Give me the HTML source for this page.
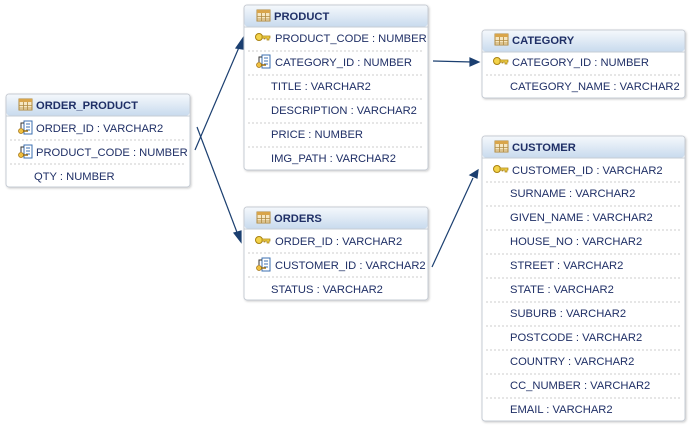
<!DOCTYPE html>
<html><head><meta charset="utf-8"><style>
html,body{margin:0;padding:0;background:#fff;width:690px;height:425px;overflow:hidden}
svg text{font-family:"Liberation Sans",sans-serif;font-size:11.2px;fill:#1f2f66}
</style></head><body>
<svg width="690" height="425" viewBox="0 0 690 425" xmlns="http://www.w3.org/2000/svg">
<defs>
<linearGradient id="hg" x1="0" y1="0" x2="0" y2="1"><stop offset="0" stop-color="#f4f8fc"/><stop offset="1" stop-color="#c9dbee"/></linearGradient>
<filter id="sh" x="-5%" y="-5%" width="110%" height="110%"><feDropShadow dx="1" dy="1" stdDeviation="1" flood-color="#000" flood-opacity="0.2"/></filter>
<g id="tbl"><rect x="0" y="0" width="13" height="11" fill="#f6e7c2" stroke="#b08a40" stroke-width="1"/><rect x="0" y="0" width="13" height="3" fill="#d9a54a"/><path d="M4.5 3v8M8.5 3v8M0 6.5h13M0 9h13" stroke="#b08a40" stroke-width="0.8"/></g>
<g id="key"><circle cx="4" cy="4" r="3.5" fill="#f3d34a" stroke="#a98210"/><path d="M7 3h8v2h-1v2h-2v-2h-2v1h-1v-1h-2z" fill="#f3d34a" stroke="#a98210" stroke-width="0.7"/></g>
<g id="fk"><rect x="6" y="0" width="8" height="13" fill="#fff" stroke="#3b6fb0"/><path d="M8 3h4M8 6h4M8 9h4" stroke="#3b6fb0"/><circle cx="3" cy="10" r="2.5" fill="#f0c040" stroke="#a07010" stroke-width="0.7"/><path d="M5 10h5" stroke="#a07010" stroke-width="1.5"/><path d="M3 7v-5h3" stroke="#333" fill="none"/></g>
</defs>

<g stroke="#1b3f70" stroke-width="1.2" fill="#1b3f70">
<path d="M195 150 L240 45" fill="none"/><path d="M243 38 L236 48 L243 49 Z"/>
<path d="M197 127 L238 235" fill="none"/><path d="M241 242 L234 233 L241 231 Z"/>
<path d="M433 61 L472 62" fill="none"/><path d="M479 62 L470 58 L470 66 Z"/>
<path d="M432 267 L473 178" fill="none"/><path d="M478 170 L470 175 L477 178 Z"/>
</g>

<g transform="translate(6,94)">
<rect x="0" y="0" width="184" height="93" rx="3" fill="#fff" stroke="#c6ccd4" filter="url(#sh)"/>
<rect x="0.5" y="0.5" width="183" height="21" rx="3" fill="url(#hg)"/>
<line x1="0" y1="22" x2="184" y2="22" stroke="#c6ccd4"/>
<use href="#tbl" x="13" y="5"/><text x="30" y="15" style="font-weight:bold">ORDER_PRODUCT</text>
<use href="#fk" x="12" y="27"/><text x="30" y="38">ORDER_ID : VARCHAR2</text>
<line x1="4" y1="46" x2="180" y2="46" stroke="#ccc" stroke-dasharray="2,2"/>
<use href="#fk" x="12" y="51"/><text x="30" y="62">PRODUCT_CODE : NUMBER</text>
<line x1="4" y1="70" x2="180" y2="70" stroke="#ccc" stroke-dasharray="2,2"/>
<text x="28" y="86">QTY : NUMBER</text>
</g>

<g transform="translate(244,5)">
<rect x="0" y="0" width="184" height="165" rx="3" fill="#fff" stroke="#c6ccd4" filter="url(#sh)"/>
<rect x="0.5" y="0.5" width="183" height="21" rx="3" fill="url(#hg)"/>
<line x1="0" y1="22" x2="184" y2="22" stroke="#c6ccd4"/>
<use href="#tbl" x="13" y="5"/><text x="30" y="15" style="font-weight:bold">PRODUCT</text>
<use href="#key" x="11" y="28"/><text x="31" y="37">PRODUCT_CODE : NUMBER</text>
<line x1="4" y1="46" x2="180" y2="46" stroke="#ccc" stroke-dasharray="2,2"/>
<use href="#fk" x="12" y="50"/><text x="31" y="61">CATEGORY_ID : NUMBER</text>
<line x1="4" y1="70" x2="180" y2="70" stroke="#ccc" stroke-dasharray="2,2"/>
<text x="27" y="85">TITLE : VARCHAR2</text>
<line x1="4" y1="94" x2="180" y2="94" stroke="#ccc" stroke-dasharray="2,2"/>
<text x="27" y="109">DESCRIPTION : VARCHAR2</text>
<line x1="4" y1="118" x2="180" y2="118" stroke="#ccc" stroke-dasharray="2,2"/>
<text x="27" y="133">PRICE : NUMBER</text>
<line x1="4" y1="142" x2="180" y2="142" stroke="#ccc" stroke-dasharray="2,2"/>
<text x="27" y="157">IMG_PATH : VARCHAR2</text>
</g>

<g transform="translate(244,207)">
<rect x="0" y="0" width="184" height="93" rx="3" fill="#fff" stroke="#c6ccd4" filter="url(#sh)"/>
<rect x="0.5" y="0.5" width="183" height="21" rx="3" fill="url(#hg)"/>
<line x1="0" y1="22" x2="184" y2="22" stroke="#c6ccd4"/>
<use href="#tbl" x="13" y="5"/><text x="30" y="15" style="font-weight:bold">ORDERS</text>
<use href="#key" x="11" y="29"/><text x="31" y="38">ORDER_ID : VARCHAR2</text>
<line x1="4" y1="46" x2="180" y2="46" stroke="#ccc" stroke-dasharray="2,2"/>
<use href="#fk" x="12" y="51"/><text x="31" y="62">CUSTOMER_ID : VARCHAR2</text>
<line x1="4" y1="70" x2="180" y2="70" stroke="#ccc" stroke-dasharray="2,2"/>
<text x="27" y="86">STATUS : VARCHAR2</text>
</g>

<g transform="translate(482,30)">
<rect x="0" y="0" width="203" height="68" rx="3" fill="#fff" stroke="#c6ccd4" filter="url(#sh)"/>
<rect x="0.5" y="0.5" width="202" height="21" rx="3" fill="url(#hg)"/>
<line x1="0" y1="22" x2="203" y2="22" stroke="#c6ccd4"/>
<use href="#tbl" x="13" y="4"/><text x="30" y="14" style="font-weight:bold">CATEGORY</text>
<use href="#key" x="11" y="27"/><text x="30" y="36">CATEGORY_ID : NUMBER</text>
<line x1="4" y1="45" x2="199" y2="45" stroke="#ccc" stroke-dasharray="2,2"/>
<text x="28" y="60">CATEGORY_NAME : VARCHAR2</text>
</g>

<g transform="translate(482,136)">
<rect x="0" y="0" width="203" height="285" rx="3" fill="#fff" stroke="#c6ccd4" filter="url(#sh)"/>
<rect x="0.5" y="0.5" width="202" height="21" rx="3" fill="url(#hg)"/>
<line x1="0" y1="22" x2="203" y2="22" stroke="#c6ccd4"/>
<use href="#tbl" x="13" y="5"/><text x="30" y="15" style="font-weight:bold">CUSTOMER</text>
<use href="#key" x="11" y="29"/><text x="30" y="38">CUSTOMER_ID : VARCHAR2</text>
<g stroke="#ccc" stroke-dasharray="2,2">
<line x1="4" y1="46" x2="199" y2="46"/><line x1="4" y1="70" x2="199" y2="70"/><line x1="4" y1="94" x2="199" y2="94"/><line x1="4" y1="118" x2="199" y2="118"/><line x1="4" y1="142" x2="199" y2="142"/><line x1="4" y1="166" x2="199" y2="166"/><line x1="4" y1="190" x2="199" y2="190"/><line x1="4" y1="214" x2="199" y2="214"/><line x1="4" y1="238" x2="199" y2="238"/><line x1="4" y1="262" x2="199" y2="262"/>
</g>
<text x="28" y="61">SURNAME : VARCHAR2</text>
<text x="28" y="85">GIVEN_NAME : VARCHAR2</text>
<text x="28" y="109">HOUSE_NO : VARCHAR2</text>
<text x="28" y="133">STREET : VARCHAR2</text>
<text x="28" y="157">STATE : VARCHAR2</text>
<text x="28" y="181">SUBURB : VARCHAR2</text>
<text x="28" y="205">POSTCODE : VARCHAR2</text>
<text x="28" y="229">COUNTRY : VARCHAR2</text>
<text x="28" y="253">CC_NUMBER : VARCHAR2</text>
<text x="28" y="277">EMAIL : VARCHAR2</text>
</g>
</svg>
</body></html>
